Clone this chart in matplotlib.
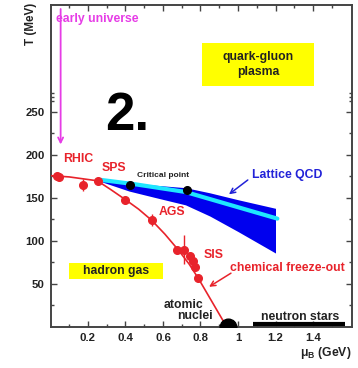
import matplotlib
matplotlib.use("Agg")
import matplotlib.pyplot as plt
from matplotlib.patches import Rectangle

plt.rcParams['font.family'] = ['Liberation Sans', 'DejaVu Sans']
plt.rcParams['font.weight'] = 'bold'

# ---- data ----
freeze_mu = [0.035, 0.047, 0.175, 0.255, 0.40, 0.543, 0.673, 0.712, 0.744, 0.762, 0.771, 0.788]
freeze_T = [176, 174, 165, 170, 148, 124, 90, 90, 83, 77, 70, 57]
freeze_err = [3, 3, 7, 3, 3, 7, 3, 17, 3, 3, 3, 3]

curve_mu = [0.0, 0.10, 0.25, 0.32, 0.40, 0.47, 0.54, 0.61, 0.68, 0.74, 0.79, 0.94]
curve_T = [176, 174.5, 170, 160, 148, 137, 124, 108, 90, 73, 56, 0]

lattice_mu = [0.27, 0.42, 0.55, 0.72, 0.85, 1.0, 1.2]
lattice_upper = [171, 168, 165, 162, 156, 148, 138]
lattice_lower = [169, 158, 151, 142, 129, 111, 86]

cyan_mu = [0.27, 0.45, 0.72, 1.21]
cyan_T = [171, 166, 157, 126]

crit_mu = [0.424, 0.726]
crit_T = [165, 159]

nucleus_mu = [0.948]
nucleus_T = [0]

neutron_mu = [1.082, 1.57]
neutron_T = 3.5

x_major = [0.2, 0.4, 0.6, 0.8, 1.0, 1.2, 1.4]
x_labels = ['0.2', '0.4', '0.6', '0.8', '1', '1.2', '1.4']
y_major = [50, 100, 150, 200, 250]
y_labels = ['50', '100', '150', '200', '250']

RED = '#e8232b'
BLUE = '#0000ee'
CYAN = '#1ee6ff'
MAG = '#e63ce6'
TXT = '#222222'

fig = plt.figure(figsize=(3.58, 3.68), dpi=100)
ax = fig.add_axes([50.5/358, 1-327/368, (352-50.5)/358, (327-5)/368])
ax.set_xlim(0, 1.608)
ax.set_ylim(0, 374.4)

# lattice band
ax.fill_between(lattice_mu, lattice_lower, lattice_upper, color=BLUE, lw=0, zorder=2)
ax.plot(cyan_mu, cyan_T, color=CYAN, lw=3, solid_capstyle='round', zorder=3)

# freeze-out curve
ax.plot(curve_mu, curve_T, color=RED, lw=1.2, zorder=4)
ax.errorbar(freeze_mu, freeze_T, yerr=freeze_err, fmt='o', color=RED, ms=5.5,
            elinewidth=1.0, capsize=0, zorder=5)

# critical points
ax.plot(crit_mu, crit_T, 'o', color='black', ms=5.5, zorder=6)

# nucleus
ax.plot(nucleus_mu, nucleus_T, 'o', color='black', ms=12, clip_on=True, zorder=6)

# neutron stars bar
ax.plot(neutron_mu, [neutron_T, neutron_T], color='black', lw=3, solid_capstyle='butt', zorder=6)

# yellow boxes
ax.add_patch(Rectangle((0.806, 280.6), 1.407-0.806, 329.9-280.6, color='#ffff00', lw=0, zorder=1))
ax.add_patch(Rectangle((0.1003, 55.5), 0.6013-0.1003, 74.8-55.5, color='#ffff00', lw=0, zorder=1))

fs = 8.8
ax.text(1.107, 314.3, 'quark-gluon', ha='center', va='center', fontsize=fs, color=TXT, fontweight='bold', zorder=7)
ax.text(1.107, 296.9, 'plasma', ha='center', va='center', fontsize=fs, color=TXT, fontweight='bold', zorder=7)
ax.text(0.351, 65, 'hadron gas', ha='center', va='center', fontsize=fs, color=TXT, fontweight='bold', zorder=7)

# early universe arrow
ax.annotate('', xy=(0.054, 209), xytext=(0.054, 373),
            arrowprops=dict(arrowstyle='->', color=MAG, lw=1.3, mutation_scale=9), zorder=3)
ax.text(0.029, 358, 'early universe', ha='left', va='center', fontsize=fs, color=MAG, fontweight='bold', zorder=7)

ax.text(0.065, 195, 'RHIC', ha='left', va='center', fontsize=fs, color=RED, fontweight='bold')
ax.text(0.273, 185.2, 'SPS', ha='left', va='center', fontsize=fs, color=RED, fontweight='bold')
ax.text(0.46, 175.6, 'Critical point', ha='left', va='center', fontsize=6, color=TXT, fontweight='bold')
ax.text(1.073, 176.7, 'Lattice QCD', ha='left', va='center', fontsize=fs, color='#2222d8', fontweight='bold')
ax.annotate('', xy=(0.94, 152.3), xytext=(1.064, 172.9),
            arrowprops=dict(arrowstyle='->', color='#2222d8', lw=1.1, mutation_scale=9))
ax.text(0.575, 134, 'AGS', ha='left', va='center', fontsize=fs, color=RED, fontweight='bold')
ax.text(0.815, 83.7, 'SIS', ha='left', va='center', fontsize=fs, color=RED, fontweight='bold')
ax.text(0.957, 69, 'chemical freeze-out', ha='left', va='center', fontsize=fs, color=RED, fontweight='bold')
ax.annotate('', xy=(0.833, 45), xytext=(0.975, 64.3),
            arrowprops=dict(arrowstyle='->', color=RED, lw=1.1, mutation_scale=9))
ax.text(0.709, 25.6, 'atomic', ha='center', va='center', fontsize=fs, color=TXT, fontweight='bold')
ax.text(0.773, 13.1, 'nuclei', ha='center', va='center', fontsize=fs, color=TXT, fontweight='bold')
ax.text(1.333, 12, 'neutron stars', ha='center', va='center', fontsize=fs, color=TXT, fontweight='bold')
ax.text(0.29, 245, '2.', ha='left', va='center', fontsize=38, color='black', fontweight='bold')

# axes styling
for s in ax.spines.values():
    s.set_color('#444444')
    s.set_linewidth(1.4)
ax.set_xticks(x_major)
ax.set_xticklabels(x_labels)
ax.set_xticks([0.1, 0.3, 0.5, 0.7, 0.9, 1.1, 1.3, 1.5], minor=True)
ax.set_yticks(y_major)
ax.set_yticklabels(y_labels)
ax.set_yticks([25, 75, 125, 175, 225, 263, 267, 272], minor=True)
ax.tick_params(which='both', direction='in', top=True, right=True, colors='#444444',
               labelcolor=TXT, labelsize=8.2, width=1.0)
ax.tick_params(which='major', length=4, pad=4)
ax.tick_params(which='minor', length=2.5)
for lab in ax.get_xticklabels() + ax.get_yticklabels():
    lab.set_fontweight('bold')

fig.text(31/358, 1-24/368, 'T (MeV)', rotation=90, ha='center', va='center',
         fontsize=8.4, color=TXT, fontweight='bold')
fig.text(352/358, 1-353/368, 'μ$_\\mathregular{B}$ (GeV)', ha='right', va='center',
         fontsize=8.8, color=TXT, fontweight='bold')

fig.savefig('out.png', dpi=100)
